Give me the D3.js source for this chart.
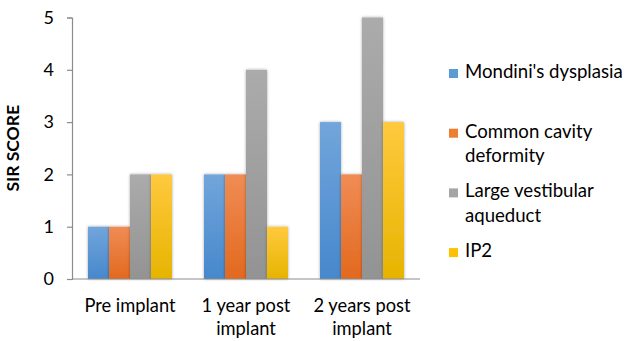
<!DOCTYPE html>
<html>
<head>
<meta charset="utf-8">
<script src="https://cdn.jsdelivr.net/npm/d3@7"></script>
<style>
  html, body { margin: 0; padding: 0; background: #ffffff; }
  svg { display: block; }
  text { font-family: Lato, "Open Sans", sans-serif; fill: #000; }
</style>
</head>
<body>
<script>
// Sensory integration (SIR) scores by inner-ear malformation group
const categories = ["Pre implant", "1 year post implant", "2 years post implant"];
const seriesNames = ["Mondini's dysplasia", "Common cavity deformity", "Large vestibular aqueduct", "IP2"];
const mondini = [1, 2, 3];
const commonCavity = [1, 2, 2];
const largeVestibular = [2, 4, 5];
const ip2 = [2, 1, 3];
const yTicks = [0, 1, 2, 3, 4, 5];
const seriesValues = [mondini, commonCavity, largeVestibular, ip2];

// gradient stops (top, bottom) for each series
const colors = [
  ["#72a5db", "#4688cc"],
  ["#f08c55", "#e2691e"],
  ["#ababab", "#939393"],
  ["#ffc93e", "#e6b400"]
];
const legendColors = ["#5b9bd5", "#ed7d31", "#a5a5a5", "#ffc000"];

const W = 630, H = 341;
const margin = { left: 72, right: 210, top: 17.5, bottom: 62 };

const svg = d3.select("body").append("svg").attr("width", W).attr("height", H);
const defs = svg.append("defs");

colors.forEach((c, i) => {
  const g = defs.append("linearGradient").attr("id", "grad" + i)
    .attr("x1", 0).attr("y1", 0).attr("x2", 0).attr("y2", 1);
  g.append("stop").attr("offset", "0%").attr("stop-color", c[0]);
  g.append("stop").attr("offset", "100%").attr("stop-color", c[1]);
});

const shadow = defs.append("filter").attr("id", "soft").attr("x", "-30%").attr("y", "-10%")
  .attr("width", "160%").attr("height", "120%");
shadow.append("feGaussianBlur").attr("in", "SourceAlpha").attr("stdDeviation", 1.6).attr("result", "b");
shadow.append("feComponentTransfer").attr("in", "b").attr("result", "s")
  .append("feFuncA").attr("type", "linear").attr("slope", 0.35);
const merge = shadow.append("feMerge");
merge.append("feMergeNode").attr("in", "s");
merge.append("feMergeNode").attr("in", "SourceGraphic");

const x0 = d3.scaleBand().domain(categories)
  .range([margin.left, W - margin.right]).paddingInner(0.276).paddingOuter(0.138);
const x1 = d3.scaleBand().domain(d3.range(seriesNames.length)).range([0, x0.bandwidth()]);
const y = d3.scaleLinear().domain([0, 5]).range([H - margin.bottom, margin.top]);

// bars
const groups = svg.append("g").selectAll("g").data(categories).join("g")
  .attr("transform", d => `translate(${x0(d)},0)`);
groups.selectAll("rect")
  .data((d, ci) => seriesValues.map((vals, si) => ({ si, v: vals[ci] })))
  .join("rect")
  .attr("x", d => x1(d.si))
  .attr("width", x1.bandwidth())
  .attr("y", d => y(d.v))
  .attr("height", d => y(0) - y(d.v))
  .attr("fill", d => `url(#grad${d.si})`)
  .attr("filter", "url(#soft)");

// y axis
const yAxis = svg.append("g").attr("transform", `translate(${margin.left},0)`)
  .call(d3.axisLeft(y).tickValues(yTicks).tickFormat(d3.format("d")).tickSize(5).tickPadding(13));
yAxis.select(".domain").attr("stroke", "#8c8c8c").attr("stroke-width", 1.2);
yAxis.selectAll(".tick line").attr("stroke", "#8c8c8c").attr("stroke-width", 1.2);
yAxis.selectAll(".tick text").style("font-size", "18px").attr("fill", "#000");

// x axis
const xAxis = svg.append("g").attr("transform", `translate(0,${y(0)})`)
  .call(d3.axisBottom(x0).tickSize(0).tickPadding(0).tickFormat(""));
xAxis.select(".domain").attr("stroke", "#8c8c8c").attr("stroke-width", 1.2)
  .attr("d", `M${margin.left},0H${W - margin.right}`);

// word wrapping helper
function wrap(textSel, width, lineHeight) {
  textSel.each(function () {
    const t = d3.select(this);
    const words = t.text().split(/\s+/);
    const xx = t.attr("x");
    t.text(null);
    let line = [];
    let tspan = t.append("tspan").attr("x", xx).attr("dy", 0);
    words.forEach(w => {
      line.push(w);
      tspan.text(line.join(" "));
      if (tspan.node().getComputedTextLength() > width && line.length > 1) {
        line.pop();
        tspan.text(line.join(" "));
        line = [w];
        tspan = t.append("tspan").attr("x", xx).attr("dy", lineHeight).text(w);
      }
    });
  });
}

// category labels
svg.append("g").selectAll("text").data(categories).join("text")
  .attr("x", d => x0(d) + x0.bandwidth() / 2)
  .attr("y", 312)
  .attr("text-anchor", "middle")
  .style("font-size", "18.3px")
  .text(d => d)
  .call(wrap, 116, 23);

// y axis title
svg.append("text")
  .attr("transform", `translate(19,${(y(0) + y(5)) / 2}) rotate(-90)`)
  .attr("text-anchor", "middle")
  .style("font-size", "17.5px").style("font-weight", "bold")
  .text("SIR SCORE");

// legend
const legend = svg.append("g");
const item = legend.selectAll("g").data(seriesNames).join("g")
  .attr("transform", (d, i) => `translate(449,${78 + i * 59.7})`);
item.append("rect").attr("x", 0).attr("y", -9).attr("width", 9).attr("height", 9)
  .attr("fill", (d, i) => legendColors[i]);
item.append("text").attr("x", 16).attr("y", 0)
  .style("font-size", "18.6px")
  .text(d => d)
  .call(wrap, 165, 24.5);
</script>
</body>
</html>
